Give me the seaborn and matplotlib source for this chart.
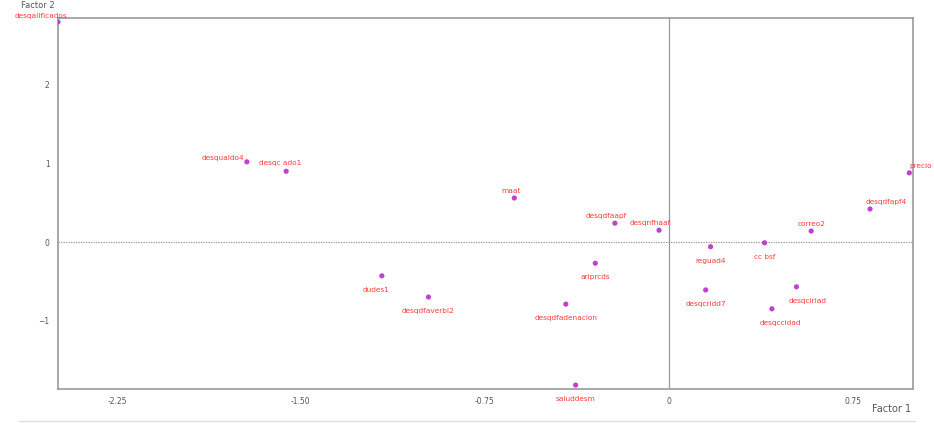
import matplotlib
matplotlib.use("Agg")
import matplotlib.pyplot as plt
import seaborn as sns
import pandas as pd

# Factor scores
labels = ["desqalificados", "desqualdo4", "desqc ado1", "maat", "desqdfaapf",
          "desqnfhaaf", "precio", "desqdfapf4", "correo2", "reguad4",
          "cc bsf", "desqcridd7", "desqcirlad", "desqccidad", "dudes1",
          "desqdfaverbl2", "ariprcds", "desqdfadenacion", "saluddesm"]
factor1 = [-2.49, -1.72, -1.56, -0.63, -0.22, -0.04, 0.98, 0.82, 0.58, 0.17,
           0.39, 0.15, 0.52, 0.42, -1.17, -0.98, -0.30, -0.42, -0.38]
factor2 = [2.80, 1.02, 0.90, 0.56, 0.24, 0.15, 0.88, 0.42, 0.14, -0.06,
           -0.01, -0.61, -0.57, -0.85, -0.43, -0.70, -0.27, -0.79, -1.82]

# label placement (dx, dy in points, ha)
label_pos = [(-12, 4, "center"), (-2, 3, "right"), (-4, 6, "center"),
             (-2, 5, "center"), (-6, 5, "center"), (-6, 5, "center"),
             (8, 5, "center"), (12, 5, "center"), (0, 5, "center"),
             (0, -10, "center"), (0, -10, "center"), (0, -10, "center"),
             (8, -10, "center"), (6, -10, "center"), (-4, -10, "center"),
             (0, -10, "center"), (0, -10, "center"), (0, -10, "center"),
             (0, -10, "center")]

xticks = [-2.25, -1.5, -0.75, 0, 0.75]
xticklabels = ["-2.25", "-1.50", "-0.75", "0", "0.75"]
yticks = [-1, 0, 1, 2]

df = pd.DataFrame({"f1": factor1, "f2": factor2, "label": labels})

sns.set_style("white")
fig = plt.figure(figsize=(9.34, 4.23), dpi=100)
ax = fig.add_axes([0.0621, 0.0804, 0.9154, 0.877])

ax.axhline(0, color="#999999", lw=0.9, ls=(0, (1, 1)), zorder=1)
ax.axvline(0, color="#999999", lw=0.9, zorder=1)

sns.scatterplot(data=df, x="f1", y="f2", ax=ax, color="#c040d0",
                s=14, edgecolor="none", zorder=3)

for (lab, x, y), (dx, dy, ha) in zip(zip(labels, factor1, factor2), label_pos):
    ax.annotate(lab, (x, y), xytext=(dx, dy), textcoords="offset points",
                ha=ha, va="center", fontsize=5.3, color="#ff3a3a", zorder=4,
                annotation_clip=False)

ax.set_xlim(-2.49, 0.995)
ax.set_ylim(-1.87, 2.85)
ax.set_xticks(xticks)
ax.set_xticklabels(xticklabels)
ax.set_yticks(yticks)
ax.tick_params(labelsize=5.5, colors="#555555", length=3, pad=3, direction="out")
for s in ax.spines.values():
    s.set_color("#999999")
    s.set_linewidth(1.2)

ax.set_xlabel("")
ax.set_ylabel("")
fig.text(0.975, 0.025, "Factor 1", fontsize=7, color="#555555", ha="right")
fig.text(0.022, 0.998, "Factor 2", fontsize=6, color="#555555", ha="left", va="top")
fig.add_artist(plt.Line2D([0.02, 0.98], [0.005, 0.005], color="#dddddd", lw=1))

fig.savefig("out.png", dpi=100)
